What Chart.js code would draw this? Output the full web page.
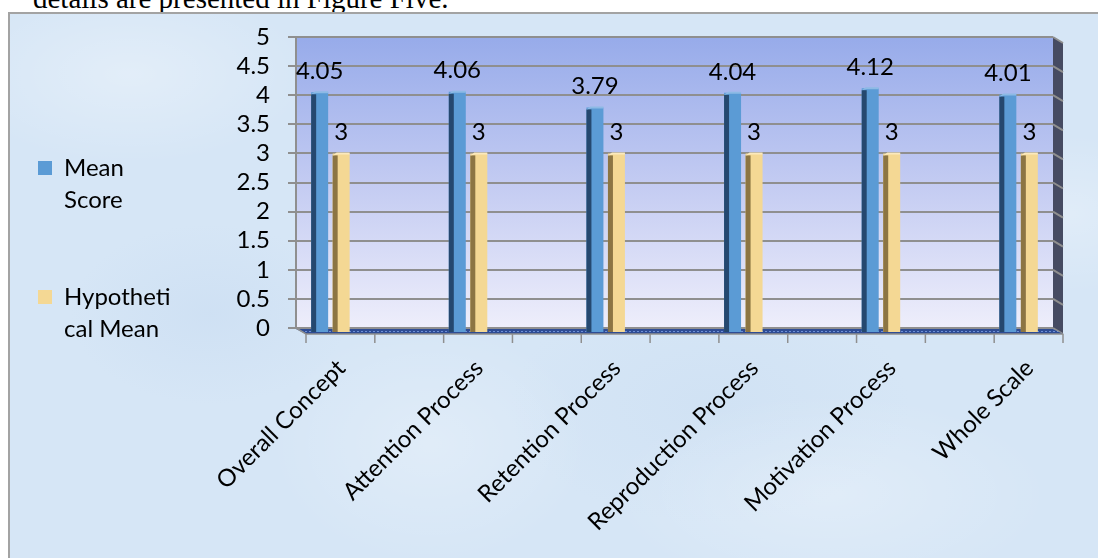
<!DOCTYPE html>
<html>
<head>
<meta charset="utf-8">
<script src="https://cdn.jsdelivr.net/npm/chart.js@4.4.1/dist/chart.umd.min.js"></script>
<style>
  html, body { margin: 0; padding: 0; background: #fff; }
  body { width: 1098px; height: 558px; position: relative; overflow: hidden; }
  #intro { position: absolute; left: 33px; top: -16px; font: 29px/29px "Liberation Serif", "Times New Roman", serif; color: #000; white-space: nowrap; }
  #frame {
    position: absolute; left: 8px; top: 12px; width: 1100px; height: 560px; box-sizing: border-box;
    border-left: 2px solid #a3a3a3; border-top: 2px solid #a3a3a3;
    background:
      radial-gradient(ellipse 180px 90px at 120px 60px, rgba(255,255,255,.3), rgba(255,255,255,0)),
      radial-gradient(ellipse 160px 120px at 420px 430px, rgba(255,255,255,.25), rgba(255,255,255,0)),
      radial-gradient(ellipse 220px 100px at 820px 480px, rgba(255,255,255,.25), rgba(255,255,255,0)),
      radial-gradient(ellipse 140px 90px at 200px 300px, rgba(190,212,238,.3), rgba(190,212,238,0)),
      radial-gradient(ellipse 200px 120px at 700px 390px, rgba(192,214,238,.25), rgba(192,214,238,0)),
      radial-gradient(ellipse 120px 80px at 1060px 200px, rgba(255,255,255,.25), rgba(255,255,255,0)),
      #d6e6f6;
  }
  #chart { position: absolute; left: 0; top: 0; }
</style>
</head>
<body>
<div id="intro">details are presented in Figure Five.</div>
<div id="frame"></div>
<canvas id="chart" width="1098" height="558"></canvas>
<script>
const categories = ['Overall Concept', 'Attention Process', 'Retention Process', 'Reproduction Process', 'Motivation Process', 'Whole Scale'];
const meanScore = [4.05, 4.06, 3.79, 4.04, 4.12, 4.01];
const hypotheticalMean = [3, 3, 3, 3, 3, 3];
const seriesNames = ['Mean Score', 'Hypothetical Mean'];
const legendLines = [['Mean', 'Score'], ['Hypotheti', 'cal Mean']];
const yTicks = [0, 0.5, 1, 1.5, 2, 2.5, 3, 3.5, 4, 4.5, 5];

const FONT = { family: 'Lato', size: 24 };
const PAD = { top: 37, left: 37, right: 45, bottom: 26 };
const PLOT_LEFT = 296;
const PLOT_BOTTOM = 328;
const DEPTH_X = 10, DEPTH_Y = 6;
const GRID = '#8f8f8f';

// colours per series: front face, dark side, lighter top
const barStyles = [
  { front: '#5b9bd5', side: '#25486f', top: '#8dbae5' },
  { front: '#f4d894', side: '#8c7543', top: '#fbe9bd' }
];

function floorPattern(ctx) {
  const c = document.createElement('canvas');
  c.width = 4; c.height = 3;
  const g = c.getContext('2d');
  g.fillStyle = '#2e4c94';
  g.fillRect(0, 0, 4, 3);
  g.fillStyle = '#6d8fd6';
  g.fillRect(1, 1, 2, 1);
  return ctx.createPattern(c, 'repeat');
}

// back wall, right side wall, floor and the front axis ticks of the fake 3D box
const box3d = {
  id: 'box3d',
  beforeDraw(chart) {
    const { ctx, chartArea: a, scales: { y } } = chart;
    ctx.save();
    const grad = ctx.createLinearGradient(0, a.top, 0, a.bottom);
    grad.addColorStop(0, '#97abea');
    grad.addColorStop(0.5, '#c3cbf2');
    grad.addColorStop(1, '#eeeefb');
    ctx.fillStyle = grad;
    ctx.fillRect(a.left, a.top, a.right - a.left, a.bottom - a.top);

    ctx.fillStyle = '#464b62';
    ctx.beginPath();
    ctx.moveTo(a.right, a.top);
    ctx.lineTo(a.right + DEPTH_X, a.top + DEPTH_Y);
    ctx.lineTo(a.right + DEPTH_X, a.bottom + DEPTH_Y);
    ctx.lineTo(a.right, a.bottom);
    ctx.closePath();
    ctx.fill();

    ctx.strokeStyle = GRID;
    ctx.lineWidth = 2;
    y.ticks.forEach(t => {
      const py = y.getPixelForValue(t.value);
      ctx.beginPath();
      ctx.moveTo(a.right, py);
      ctx.lineTo(a.right + DEPTH_X, py + DEPTH_Y);
      ctx.stroke();
    });
    ctx.restore();
  },
  beforeDatasetsDraw(chart) {
    const { ctx, chartArea: a, scales: { x } } = chart;
    ctx.save();
    ctx.fillStyle = floorPattern(ctx);
    ctx.beginPath();
    ctx.moveTo(a.left, a.bottom + 1);
    ctx.lineTo(a.right, a.bottom + 1);
    ctx.lineTo(a.right + DEPTH_X, a.bottom + DEPTH_Y);
    ctx.lineTo(a.left + DEPTH_X, a.bottom + DEPTH_Y);
    ctx.closePath();
    ctx.fill();

    ctx.strokeStyle = GRID;
    ctx.lineWidth = 1.5;
    ctx.beginPath();
    ctx.moveTo(a.left, a.bottom);
    ctx.lineTo(a.left + DEPTH_X, a.bottom + DEPTH_Y);
    ctx.lineTo(a.right + DEPTH_X, a.bottom + DEPTH_Y);
    ctx.stroke();

    // front tick marks sit between the bar groups, every half category
    for (let v = x.min; v <= x.max + 1e-6; v += 0.5) {
      const px = x.getPixelForValue(v) + DEPTH_X;
      ctx.beginPath();
      ctx.moveTo(px, a.bottom + DEPTH_Y);
      ctx.lineTo(px, a.bottom + DEPTH_Y + 9);
      ctx.stroke();
    }
    ctx.restore();
  },
  afterDatasetsDraw(chart) {
    const { ctx } = chart;
    ctx.save();
    chart.data.datasets.forEach((ds, i) => {
      const st = barStyles[i];
      chart.getDatasetMeta(i).data.forEach((bar, j) => {
        const { x, y, base, width } = bar.getProps(['x', 'y', 'base', 'width'], true);
        const left = x - width / 2;
        ctx.fillStyle = st.front;
        ctx.fillRect(left, base, width, 5);
        ctx.fillStyle = st.side;
        ctx.fillRect(left, y + 2, 5, base + 5 - y - 2);
        ctx.fillStyle = st.top;
        ctx.beginPath();
        ctx.moveTo(left, y + 2);
        ctx.lineTo(left + 4, y - 1);
        ctx.lineTo(left + width, y - 1);
        ctx.lineTo(left + width, y + 1);
        ctx.lineTo(left + 5, y + 1);
        ctx.closePath();
        ctx.fill();

        ctx.fillStyle = '#000';
        ctx.font = FONT.size + 'px ' + FONT.family;
        ctx.textAlign = 'center';
        ctx.textBaseline = 'middle';
        ctx.fillText(String(ds.data[j].y), x, y - 21);
      });
    });
    ctx.restore();
  }
};

new Chart(document.getElementById('chart'), {
  type: 'bar',
  data: {
    datasets: [
      {
        label: seriesNames[0],
        data: meanScore.map((v, i) => ({ x: i, y: v })),
        backgroundColor: barStyles[0].front,
        categoryPercentage: 0.3125,
        barPercentage: 0.79
      },
      {
        label: seriesNames[1],
        data: hypotheticalMean.map((v, i) => ({ x: i, y: v })),
        backgroundColor: barStyles[1].front,
        categoryPercentage: 0.3125,
        barPercentage: 0.79
      }
    ]
  },
  options: {
    responsive: false,
    animation: false,
    layout: { padding: PAD },
    scales: {
      x: {
        type: 'linear',
        offset: false,
        min: -0.25,
        max: 5.25,
        afterBuildTicks: s => { s.ticks = categories.map((c, i) => ({ value: i })); },
        afterFit: s => { s.height = 558 - PAD.bottom - PLOT_BOTTOM; },
        grid: { display: false, offset: false },
        border: { display: false },
        ticks: {
          autoSkip: false, minRotation: 45, maxRotation: 45,
          labelOffset: 11, padding: 18, color: '#000', font: FONT,
          callback: v => categories[v]
        }
      },
      y: {
        min: 0,
        max: 5,
        afterBuildTicks: s => { s.ticks = yTicks.map(v => ({ value: v })); },
        afterFit: s => { s.width = PLOT_LEFT - PAD.left - s.chart.legend.width; },
        grid: { color: GRID, lineWidth: 2, tickLength: 8 },
        border: { display: true, color: GRID, width: 2 },
        ticks: { autoSkip: false, padding: 18, color: '#000', font: FONT, callback: v => String(v) }
      }
    },
    plugins: {
      tooltip: { enabled: false },
      legend: {
        position: 'left',
        align: 'center',
        fullSize: true,
        labels: {
          boxWidth: 14,
          boxHeight: 14,
          padding: 1,
          color: '#000',
          font: { family: 'Lato', size: 24, lineHeight: '32px' },
          // two blank lines stretch each entry so the pair spreads like the original
          generateLabels: chart => chart.data.datasets.map((ds, i) => ({
            text: legendLines[i].concat(['', '']),
            fillStyle: ds.backgroundColor,
            strokeStyle: ds.backgroundColor,
            lineWidth: 0,
            fontColor: '#000',
            hidden: false,
            datasetIndex: i
          }))
        }
      }
    }
  },
  plugins: [box3d]
});
</script>
</body>
</html>
